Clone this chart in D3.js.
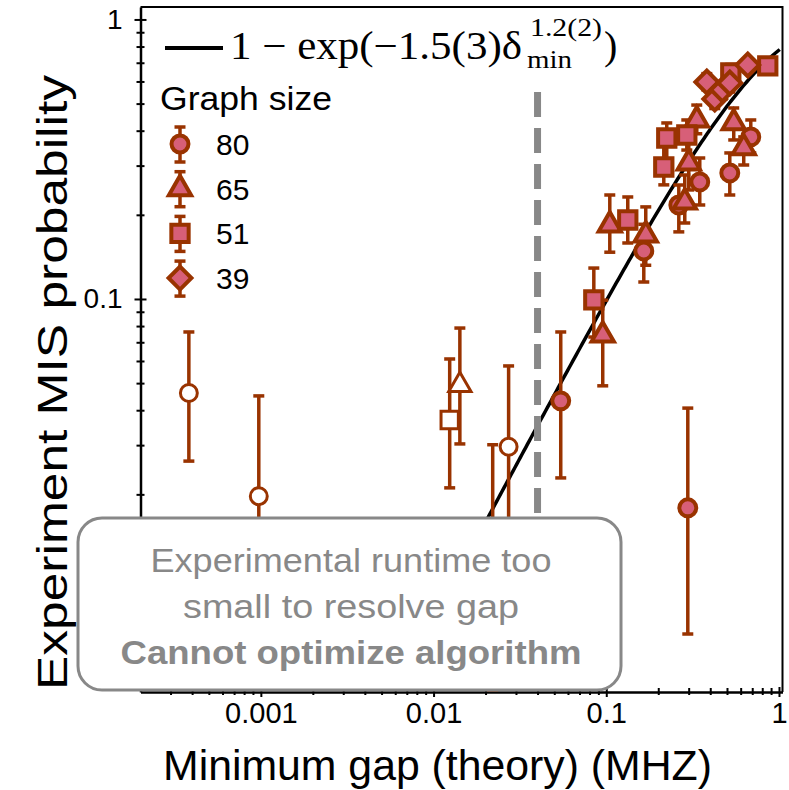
<!DOCTYPE html>
<html>
<head>
<meta charset="utf-8">
<script src="https://cdn.jsdelivr.net/npm/d3@7"></script>
<style>
  body { margin: 0; background: #fff; }
  svg { display: block; }
</style>
</head>
<body>
<svg id="chart" width="789" height="790"></svg>
<script>
// graph sizes shown in legend
const sizes = ["80", "65", "51", "39"];
const shapes = ["circle", "triangle", "square", "diamond"];

// [gap (MHz), probability, lower, upper, open]
const series80 = [
    [0.000383, 0.0461, 0.0263, 0.0762, true],
    [0.000973, 0.0197, 0.008, 0.045, true],
    [0.022, 0.010, 0.004, 0.0301, true],
    [0.0272, 0.0296, 0.012, 0.0576, true],
    [0.0545, 0.0432, 0.0229, 0.0762, false],
    [0.2965, 0.0179, 0.00633, 0.0407, false],
    [0.1649, 0.1485, 0.115, 0.185, false],
    [0.263, 0.2169, 0.1738, 0.2557, false],
    [0.3478, 0.2622, 0.2169, 0.3194, false],
    [0.519, 0.2824, 0.2355, 0.333, false],
    [0.6866, 0.38, 0.333, 0.4369, false]
];
const series65 = [
    [0.0142, 0.0492, 0.0303, 0.0787, true],
    [0.0954, 0.0743, 0.0489, 0.099, false],
    [0.1048, 0.184, 0.147, 0.2355, false],
    [0.1693, 0.1694, 0.132, 0.2135, false],
    [0.3004, 0.3066, 0.2455, 0.371, false],
    [0.2848, 0.2223, 0.187, 0.2777, false],
    [0.3342, 0.4369, 0.39, 0.494, false],
    [0.547, 0.4264, 0.3706, 0.4823, false],
    [0.625, 0.347, 0.3015, 0.38, false]
];
const series51 = [
    [0.0124, 0.0369, 0.0211, 0.061, true],
    [0.0847, 0.0992, 0.0731, 0.129, false],
    [0.1332, 0.1917, 0.1586, 0.2317, false],
    [0.224, 0.3767, 0.314, 0.4263, false],
    [0.2153, 0.2966, 0.256, 0.3707, false],
    [0.2926, 0.386, 0.341, 0.4369, false],
    [0.526, 0.6435, 0.60, 0.69, false],
    [0.861, 0.682, 0.64, 0.72, false]
];
const series39 = [
    [0.382, 0.5976, 0.56, 0.64, false],
    [0.4248, 0.5195, 0.48, 0.56, false],
    [0.47, 0.56, 0.52, 0.60, false],
    [0.519, 0.5926, 0.55, 0.63, false],
    [0.6596, 0.6875, 0.65, 0.72, false]
];
const allSeries = [series80, series65, series51, series39];

// fitted curve 1 - exp(-a * gap^b)
const fitA = 1.5;
const fitB = 1.16;
const fitRange = [0.008, 1.01];
const cutoffGap = 0.04;
const cutoffTop = 0.55;

const xTickMajor = [0.001, 0.01, 0.1, 1];
const yTickMajor = [0.1, 1];

const brown = "#993300";
const pink = "#d75f78";
const grey = "#888888";
const sans = "'Liberation Sans', Arial, sans-serif";
const serif = "'Liberation Serif', 'DejaVu Serif', serif";

const svg = d3.select("#chart");

const x = d3.scaleLog().domain([2.01e-4, 1.048]).range([140.5, 782.5]);
const y = d3.scaleLog().domain([0.003926, 1.108]).range([692, 7]);

// minor ticks on each decade
let xTicks = [];
for (let e = -4; e <= 0; e++) {
    for (let m = 1; m <= 9; m++) {
        let v = m * Math.pow(10, e);
        if (v >= 2.05e-4 && v <= 1.001) xTicks.push(v);
    }
}
let yTicks = [];
for (let e = -2; e <= 0; e++) {
    for (let m = 1; m <= 9; m++) {
        let v = m * Math.pow(10, e);
        if (v >= 0.0199 && v <= 1.001) yTicks.push(v);
    }
}
const isMajor = (v, list) => list.some(m => Math.abs(m - v) / m < 1e-6);

// frame (top and right)
svg.append("path")
    .attr("d", `M140.5,7 H782.5 V692`)
    .attr("fill", "none")
    .attr("stroke", "#000")
    .attr("stroke-width", 2);

// x axis
const xAxisG = svg.append("g")
    .attr("transform", "translate(0,692)")
    .call(d3.axisBottom(x).tickValues(xTicks).tickSizeOuter(0)
        .tickFormat(d => isMajor(d, xTickMajor) ? d3.format("~g")(d) : ""));
xAxisG.select(".domain").attr("stroke", "#000").attr("stroke-width", 2.5);
xAxisG.selectAll(".tick line")
    .attr("stroke", "#000").attr("stroke-width", 2)
    .attr("y1", d => isMajor(d, xTickMajor) ? 5 : 3)
    .attr("y2", d => isMajor(d, xTickMajor) ? -5 : -4);
xAxisG.selectAll(".tick text")
    .attr("y", 31).attr("dy", null)
    .attr("fill", "#000")
    .style("font-family", sans)
    .style("font-size", "29px");

// y axis
const yAxisG = svg.append("g")
    .attr("transform", "translate(140.5,0)")
    .call(d3.axisLeft(y).tickValues(yTicks).tickSizeOuter(0)
        .tickFormat(d => isMajor(d, yTickMajor) ? d3.format("~g")(d) : ""));
yAxisG.select(".domain").attr("stroke", "#000").attr("stroke-width", 2.5);
yAxisG.selectAll(".tick line")
    .attr("stroke", "#000").attr("stroke-width", 2)
    .attr("x1", d => isMajor(d, yTickMajor) ? -6 : -4)
    .attr("x2", d => isMajor(d, yTickMajor) ? 6 : 4);
yAxisG.selectAll(".tick text")
    .attr("x", -18)
    .attr("fill", "#000")
    .style("font-family", sans)
    .style("font-size", "28px");

// fit curve
const fitGaps = d3.range(0, 201).map(i => fitRange[0] * Math.pow(fitRange[1] / fitRange[0], i / 200));
svg.append("path")
    .datum(fitGaps)
    .attr("fill", "none")
    .attr("stroke", "#000")
    .attr("stroke-width", 3.5)
    .attr("d", d3.line()
        .x(d => x(d))
        .y(d => y(1 - Math.exp(-fitA * Math.pow(d, fitB)))));

// cutoff dashed line
svg.append("line")
    .attr("x1", x(cutoffGap)).attr("x2", x(cutoffGap))
    .attr("y1", y(cutoffTop)).attr("y2", 520)
    .attr("stroke", grey)
    .attr("stroke-width", 7)
    .attr("stroke-dasharray", "25,11");

function symbolFor(shape) {
    if (shape === "circle") return d3.symbol(d3.symbolCircle, 225)();
    if (shape === "triangle") return d3.symbol(d3.symbolTriangle, 215)();
    if (shape === "square") return d3.symbol(d3.symbolSquare, 300)();
    return d3.symbol(d3.symbolSquare, 260)();
}

function drawErr(g, cx, y1, y2) {
    g.append("line").attr("x1", cx).attr("x2", cx).attr("y1", y1).attr("y2", y2)
        .attr("stroke", brown).attr("stroke-width", 3.5);
    [y1, y2].forEach(yy => {
        g.append("line").attr("x1", cx - 5.5).attr("x2", cx + 5.5).attr("y1", yy).attr("y2", yy)
            .attr("stroke", brown).attr("stroke-width", 3.5);
    });
}

function drawMarker(g, shape, cx, cy, open) {
    g.append("path")
        .attr("d", symbolFor(shape))
        .attr("transform", `translate(${cx},${cy})` + (shape === "diamond" ? " rotate(45)" : ""))
        .attr("fill", open ? "#fff" : pink)
        .attr("stroke", brown)
        .attr("stroke-width", open ? 3 : 4);
}

const dataG = svg.append("g");
const barsG = dataG.append("g");
const marksG = dataG.append("g");
allSeries.forEach((s, i) => {
    s.forEach(d => {
        drawErr(barsG, x(d[0]), y(d[3]), y(d[2]));
    });
});
allSeries.forEach((s, i) => {
    s.forEach(d => {
        drawMarker(marksG, shapes[i], x(d[0]), y(d[1]), d[4]);
    });
});

// annotation box
const box = svg.append("g");
box.append("rect")
    .attr("x", 78).attr("y", 518)
    .attr("width", 543).attr("height", 172)
    .attr("rx", 24).attr("ry", 24)
    .attr("fill", "#fff")
    .attr("stroke", grey)
    .attr("stroke-width", 3);
const boxLines = ["Experimental runtime too", "small to resolve gap", "Cannot optimize algorithm"];
const boxWidths = [401, 336, 461];
box.selectAll("text")
    .data(boxLines)
    .join("text")
    .attr("x", 351)
    .attr("y", (d, i) => 572 + i * 46)
    .attr("text-anchor", "middle")
    .attr("textLength", (d, i) => boxWidths[i])
    .attr("lengthAdjust", "spacingAndGlyphs")
    .attr("fill", grey)
    .style("font-family", sans)
    .style("font-size", "33px")
    .style("font-weight", (d, i) => i === 2 ? "bold" : "normal")
    .text(d => d);

// legend
const leg = svg.append("g");
leg.append("line")
    .attr("x1", 165).attr("x2", 223).attr("y1", 48).attr("y2", 48)
    .attr("stroke", "#000").attr("stroke-width", 4);
leg.append("text")
    .attr("x", 230).attr("y", 59)
    .attr("textLength", 292).attr("lengthAdjust", "spacingAndGlyphs")
    .style("font-family", serif).style("font-size", "40px")
    .text("1 \u2212 exp(\u22121.5(3)\u03b4");
leg.append("text")
    .attr("x", 530).attr("y", 36)
    .attr("textLength", 72).attr("lengthAdjust", "spacingAndGlyphs")
    .style("font-family", serif).style("font-size", "25px")
    .text("1.2(2)");
leg.append("text")
    .attr("x", 527).attr("y", 68)
    .attr("textLength", 45).attr("lengthAdjust", "spacingAndGlyphs")
    .style("font-family", serif).style("font-size", "25px")
    .text("min");
leg.append("text")
    .attr("x", 604).attr("y", 59)
    .style("font-family", serif).style("font-size", "40px")
    .text(")");

leg.append("text")
    .attr("x", 160).attr("y", 110)
    .attr("textLength", 172).attr("lengthAdjust", "spacingAndGlyphs")
    .style("font-family", sans)
    .style("font-size", "34px")
    .text("Graph size");

sizes.forEach((s, i) => {
    const cy = 144 + i * 44.7;
    drawErr(leg, 180, cy - 17, cy + 18);
    drawMarker(leg, shapes[i], 180, cy, false);
    leg.append("text")
        .attr("x", 216).attr("y", cy + 11)
        .style("font-family", sans)
        .style("font-size", "30px")
        .text(s);
});

// axis titles
svg.append("text")
    .attr("x", 163).attr("y", 780)
    .attr("textLength", 549).attr("lengthAdjust", "spacingAndGlyphs")
    .style("font-family", sans)
    .style("font-size", "42px")
    .text("Minimum gap (theory) (MHZ)");

svg.append("text")
    .attr("transform", "translate(67,690) rotate(-90)")
    .attr("x", 0).attr("y", 0)
    .attr("textLength", 615).attr("lengthAdjust", "spacingAndGlyphs")
    .style("font-family", sans)
    .style("font-size", "42px")
    .text("Experiment MIS probability");
</script>
</body>
</html>
